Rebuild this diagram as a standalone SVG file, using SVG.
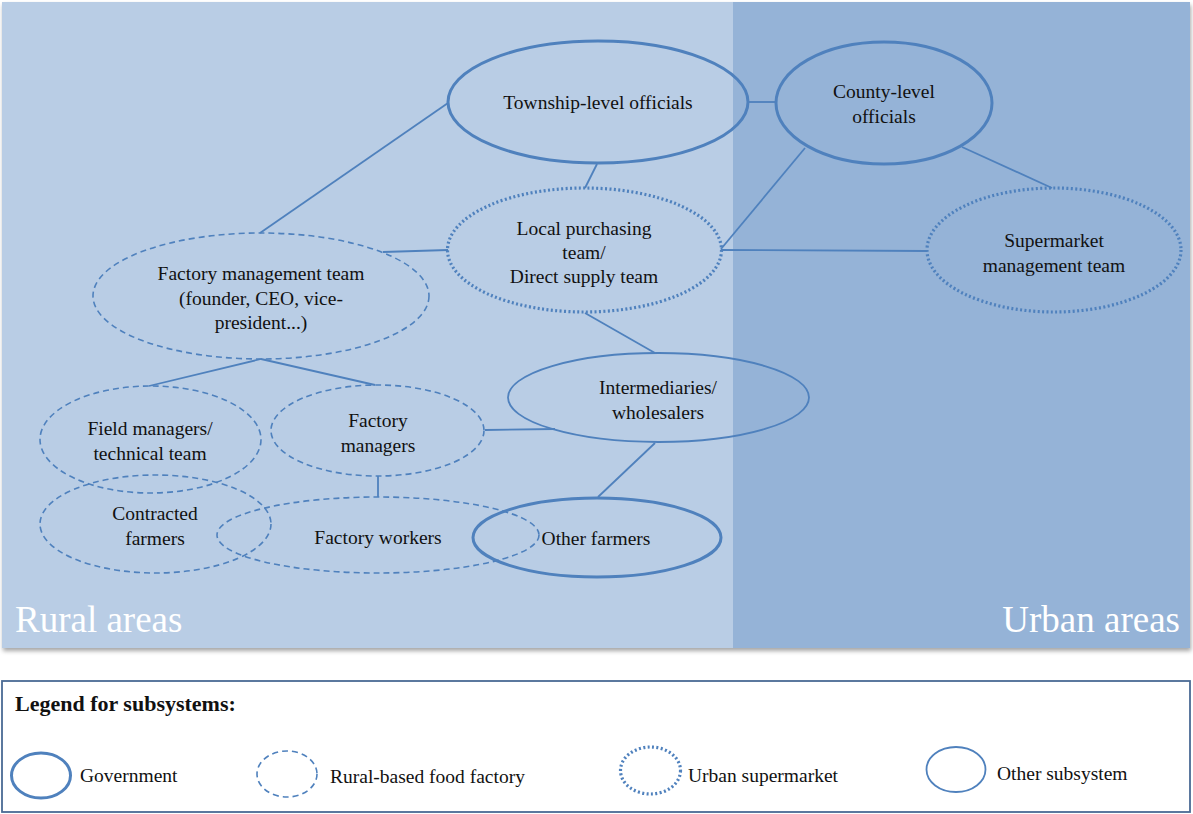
<svg xmlns="http://www.w3.org/2000/svg" width="1193" height="814" viewBox="0 0 1193 814">
<defs>
<style>
.t{font-family:"Liberation Serif","DejaVu Serif",serif;font-size:19.5px;fill:#111;text-anchor:middle}
.n{fill:none;stroke:#4f81bd}
.gov{stroke-width:3}
.oth{stroke-width:1.8}
.fac{stroke-width:1.6;stroke-dasharray:6 4}
.sup{stroke-width:3.2;stroke-dasharray:2 2.4}
.c line{stroke:#4f81bd;stroke-width:1.8}
.area{font-family:"Liberation Serif","DejaVu Serif",serif;font-size:37px;fill:#fff}
.lg{font-family:"Liberation Serif","DejaVu Serif",serif;font-size:19.5px;fill:#111}
</style>
<filter id="sh" x="-2%" y="-2%" width="104%" height="106%">
<feDropShadow dx="1" dy="3" stdDeviation="2" flood-color="#000" flood-opacity="0.35"/>
</filter>
</defs>
<rect x="0" y="0" width="1193" height="814" fill="#fff"/>
<g id="background" filter="url(#sh)">
<rect x="2" y="2" width="1188" height="646" fill="#b9cde5"/>
<rect x="733" y="2" width="457" height="646" fill="#95b3d7"/>
</g>
<text class="area" x="15" y="632">Rural areas</text>
<text class="area" x="1180" y="632" text-anchor="end">Urban areas</text>

<g class="c" id="connectors">
<line x1="748" y1="102" x2="776" y2="102"/>
<line x1="597" y1="164" x2="585" y2="188"/>
<line x1="448" y1="103" x2="260" y2="233"/>
<line x1="383" y1="252" x2="448" y2="250"/>
<line x1="805" y1="148" x2="721" y2="249"/>
<line x1="721" y1="250" x2="927" y2="251"/>
<line x1="962" y1="147" x2="1052" y2="188"/>
<line x1="585" y1="313" x2="655" y2="353"/>
<line x1="261" y1="359" x2="149" y2="386"/>
<line x1="261" y1="359" x2="375" y2="385"/>
<line x1="485" y1="430" x2="555" y2="429"/>
<line x1="378" y1="476" x2="378" y2="497"/>
<line x1="655" y1="443" x2="598" y2="497"/>
</g>

<g id="township">
<ellipse class="n gov" cx="598" cy="102" rx="150" ry="61"/>
<text class="t" x="598" y="109">Township-level officials</text>
</g>
<g id="county">
<ellipse class="n gov" cx="884" cy="103" rx="108" ry="61"/>
<text class="t" x="884" y="98">County-level</text>
<text class="t" x="884" y="123">officials</text>
</g>
<g id="local-purchasing">
<ellipse class="n sup" cx="584.5" cy="250" rx="137" ry="62"/>
<text class="t" x="584" y="235">Local purchasing</text>
<text class="t" x="584" y="259">team/</text>
<text class="t" x="584" y="283">Direct supply team</text>
</g>
<g id="supermarket">
<ellipse class="n sup" cx="1054" cy="250" rx="127" ry="62"/>
<text class="t" x="1054" y="247">Supermarket</text>
<text class="t" x="1054" y="272">management team</text>
</g>
<g id="factory-management">
<ellipse class="n fac" cx="261" cy="296" rx="168" ry="63"/>
<text class="t" x="261" y="280">Factory management team</text>
<text class="t" x="261" y="305">(founder, CEO, vice-</text>
<text class="t" x="261" y="329">president...)</text>
</g>
<g id="intermediaries">
<ellipse class="n oth" cx="658.5" cy="397.5" rx="150.5" ry="44.5"/>
<text class="t" x="658" y="394">Intermediaries/</text>
<text class="t" x="658" y="419">wholesalers</text>
</g>
<g id="field-managers">
<ellipse class="n fac" cx="150.5" cy="439.5" rx="110.5" ry="53.5"/>
<text class="t" x="150" y="435">Field managers/</text>
<text class="t" x="150" y="460">technical team</text>
</g>
<g id="factory-managers">
<ellipse class="n fac" cx="377.5" cy="430.5" rx="106.5" ry="45.5"/>
<text class="t" x="378" y="427">Factory</text>
<text class="t" x="378" y="452">managers</text>
</g>
<g id="contracted-farmers">
<ellipse class="n fac" cx="155.5" cy="524" rx="115.5" ry="49"/>
<text class="t" x="155" y="520">Contracted</text>
<text class="t" x="155" y="545">farmers</text>
</g>
<g id="factory-workers">
<ellipse class="n fac" cx="378" cy="535" rx="161" ry="38"/>
<text class="t" x="378" y="544">Factory workers</text>
</g>
<g id="other-farmers">
<ellipse class="n gov" cx="597" cy="537.5" rx="124" ry="39.5"/>
<text class="t" x="596" y="545">Other farmers</text>
</g>

<g id="legend">
<rect x="2" y="681" width="1188" height="131" fill="#fff" stroke="#4a6a94" stroke-width="1.8"/>
<text class="lg" x="15" y="711" style="font-weight:bold;font-size:22px">Legend for subsystems:</text>
<ellipse class="n gov" cx="41" cy="775.5" rx="29.5" ry="22.5"/>
<text class="lg" x="80" y="782">Government</text>
<ellipse class="n fac" cx="287" cy="774" rx="30" ry="23"/>
<text class="lg" x="330" y="783">Rural-based food factory</text>
<ellipse class="n sup" cx="650.5" cy="770.5" rx="30" ry="23.5"/>
<text class="lg" x="688" y="782">Urban supermarket</text>
<ellipse class="n oth" cx="956" cy="769.5" rx="29.5" ry="22.5"/>
<text class="lg" x="997" y="780">Other subsystem</text>
</g>
</svg>
